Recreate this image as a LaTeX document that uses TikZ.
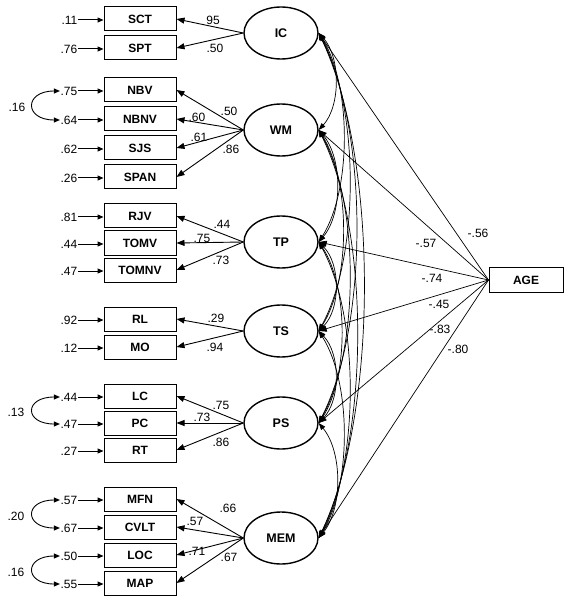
\documentclass[tikz,border=0pt]{standalone}
\usepackage{fontspec}
\setmainfont{Liberation Sans}
\usetikzlibrary{arrows.meta,shapes.geometric}
\begin{document}
\begin{tikzpicture}[x=1pt,y=-1pt,
  obs/.style={draw, line width=1pt, minimum width=72pt, minimum height=24pt, inner sep=0pt, font=\fontsize{12}{12}\selectfont\bfseries},
  lat/.style={draw, ellipse, line width=1.4pt, minimum width=74pt, minimum height=52pt, inner sep=0pt, font=\fontsize{12.5}{12}\selectfont\bfseries},
  num/.style={inner sep=0.5pt, font=\fontsize{12}{12}\selectfont},
  load/.style={line width=0.9pt, -{Triangle[length=8pt,width=6pt]}},
  agel/.style={line width=0.7pt, -{Triangle[length=8pt,width=6pt]}},
  err/.style={line width=1pt, -{Triangle[length=6pt,width=5pt]}},
  ecov/.style={line width=0.9pt, {Triangle[length=6pt,width=5pt]}-{Triangle[length=6pt,width=5pt]}},
  cov/.style={line width=0.7pt, {Triangle[length=7pt,width=5pt]}-{Triangle[length=7pt,width=5pt]}},
]
\useasboundingbox (0,0) rectangle (570,601);

% observed boxes
\node[obs] (SCT) at (140,19) {SCT};
\node[obs] (SPT) at (140,48) {SPT};
\node[obs] (NBV) at (140,90) {NBV};
\node[obs] (NBNV) at (140,119) {NBNV};
\node[obs] (SJS) at (140,148) {SJS};
\node[obs] (SPAN) at (140,177) {SPAN};
\node[obs] (RJV) at (140,216) {RJV};
\node[obs] (TOMV) at (140,243) {TOMV};
\node[obs] (TOMNV) at (140,270) {TOMNV};
\node[obs] (RL) at (140,319) {RL};
\node[obs] (MO) at (140,347) {MO};
\node[obs] (LC) at (140,396) {LC};
\node[obs] (PC) at (140,423) {PC};
\node[obs] (RT) at (140,450) {RT};
\node[obs] (MFN) at (140,499) {MFN};
\node[obs] (CVLT) at (140,527) {CVLT};
\node[obs] (LOC) at (140,555) {LOC};
\node[obs] (MAP) at (140,583) {MAP};

% error terms
\foreach \b/\v in {SCT/.11,SPT/.76,NBV/.75,NBNV/.64,SJS/.62,SPAN/.26,RJV/.81,TOMV/.44,TOMNV/.47,RL/.92,MO/.12,LC/.44,PC/.47,RT/.27,MFN/.57,CVLT/.67,LOC/.50,MAP/.55}{
  \node[num, anchor=east] (e\b) at ([yshift=-1pt]\b.west -| 78,0) {\v};
  \draw[err] (e\b.east) -- (\b.west |- e\b.east);
}

% error covariances
\draw[ecov] (eNBV.west) .. controls +(-36,0) and +(-36,0) .. (eNBNV.west);
\node[num] (cNB) at (17,107) {.16};
\draw[ecov] (eLC.west) .. controls +(-36,0) and +(-36,0) .. (ePC.west);
\node[num] (cLP) at (16,412) {.13};
\draw[ecov] (eMFN.west) .. controls +(-36,0) and +(-36,0) .. (eCVLT.west);
\node[num] (cMC) at (16,516) {.20};
\draw[ecov] (eLOC.west) .. controls +(-36,0) and +(-36,0) .. (eMAP.west);
\node[num] (cLM) at (16,572) {.16};

% latent variables
\node[lat] (IC) at (281,33) {IC};
\node[lat] (WM) at (281,130) {WM};
\node[lat] (TP) at (281,242) {TP};
\node[lat] (TS) at (281,331) {TS};
\node[lat] (PS) at (281,423) {PS};
\node[lat] (MEM) at (281,538) {MEM};

% loadings
\draw[load] (IC.west) -- (SCT.east);
\draw[load] (IC.west) -- (SPT.east);
\draw[load] (WM.west) -- (NBV.east);
\draw[load] (WM.west) -- (NBNV.east);
\draw[load] (WM.west) -- (SJS.east);
\draw[load] (WM.west) -- (SPAN.east);
\draw[load] (TP.west) -- (RJV.east);
\draw[load] (TP.west) -- (TOMV.east);
\draw[load] (TP.west) -- (TOMNV.east);
\draw[load] (TS.west) -- (RL.east);
\draw[load] (TS.west) -- (MO.east);
\draw[load] (PS.west) -- (LC.east);
\draw[load] (PS.west) -- (PC.east);
\draw[load] (PS.west) -- (RT.east);
\draw[load] (MEM.west) -- (MFN.east);
\draw[load] (MEM.west) -- (CVLT.east);
\draw[load] (MEM.west) -- (LOC.east);
\draw[load] (MEM.west) -- (MAP.east);

% loading labels
\node[num] (l1) at (213,20) {95};
\node[num] (l2) at (215,48) {.50};
\node[num] (l3) at (229,111) {.50};
\node[num] (l4) at (197,117) {.60};
\node[num] (l5) at (199,137) {.61};
\node[num] (l6) at (231,149) {.86};
\node[num] (l7) at (222,224) {.44};
\node[num] (l8) at (202,238) {.75};
\node[num] (l9) at (221,260) {.73};
\node[num] (l10) at (216,318) {.29};
\node[num] (l11) at (215,347) {.94};
\node[num] (l12) at (221,405) {.75};
\node[num] (l13) at (202,417) {.73};
\node[num] (l14) at (221,442) {.86};
\node[num] (l15) at (228,508) {.66};
\node[num] (l16) at (195,521) {.57};
\node[num] (l17) at (197,551) {.71};
\node[num] (l18) at (229,557) {.67};

% latent covariances
\draw[cov] (IC.east) .. controls +(22,24) and +(22,-24) .. (WM.east);
\draw[cov] (IC.east) .. controls +(33,52) and +(33,-52) .. (TP.east);
\draw[cov] (IC.east) .. controls +(41,75) and +(41,-75) .. (TS.east);
\draw[cov] (IC.east) .. controls +(50,98) and +(50,-98) .. (PS.east);
\draw[cov] (IC.east) .. controls +(60,126) and +(60,-126) .. (MEM.east);
\draw[cov] (WM.east) .. controls +(24,28) and +(24,-28) .. (TP.east);
\draw[cov] (WM.east) .. controls +(32,50) and +(32,-50) .. (TS.east);
\draw[cov] (WM.east) .. controls +(41,73) and +(41,-73) .. (PS.east);
\draw[cov] (WM.east) .. controls +(51,102) and +(51,-102) .. (MEM.east);
\draw[cov] (TP.east) .. controls +(22,22) and +(22,-22) .. (TS.east);
\draw[cov] (TP.east) .. controls +(30,45) and +(30,-45) .. (PS.east);
\draw[cov] (TP.east) .. controls +(41,74) and +(41,-74) .. (MEM.east);
\draw[cov] (TS.east) .. controls +(22,23) and +(22,-23) .. (PS.east);
\draw[cov] (TS.east) .. controls +(33,52) and +(33,-52) .. (MEM.east);
\draw[cov] (PS.east) .. controls +(24,29) and +(24,-29) .. (MEM.east);

% AGE
\node[obs, minimum width=74pt, minimum height=25pt] (AGE) at (526,280) {AGE};
\draw[agel] (AGE.west) -- (IC.east);
\draw[agel] (AGE.west) -- (WM.east);
\draw[agel] (AGE.west) -- (TP.east);
\draw[agel] (AGE.west) -- (TS.east);
\draw[agel] (AGE.west) -- (PS.east);
\draw[agel] (AGE.west) -- (MEM.east);
\node[num] (a1) at (478,233) {-.56};
\node[num] (a2) at (426,243) {-.57};
\node[num] (a3) at (432,278) {-.74};
\node[num] (a4) at (439,304) {-.45};
\node[num] (a5) at (440,329) {-.83};
\node[num] (a6) at (458,349) {-.80};
\end{tikzpicture}
\end{document}
